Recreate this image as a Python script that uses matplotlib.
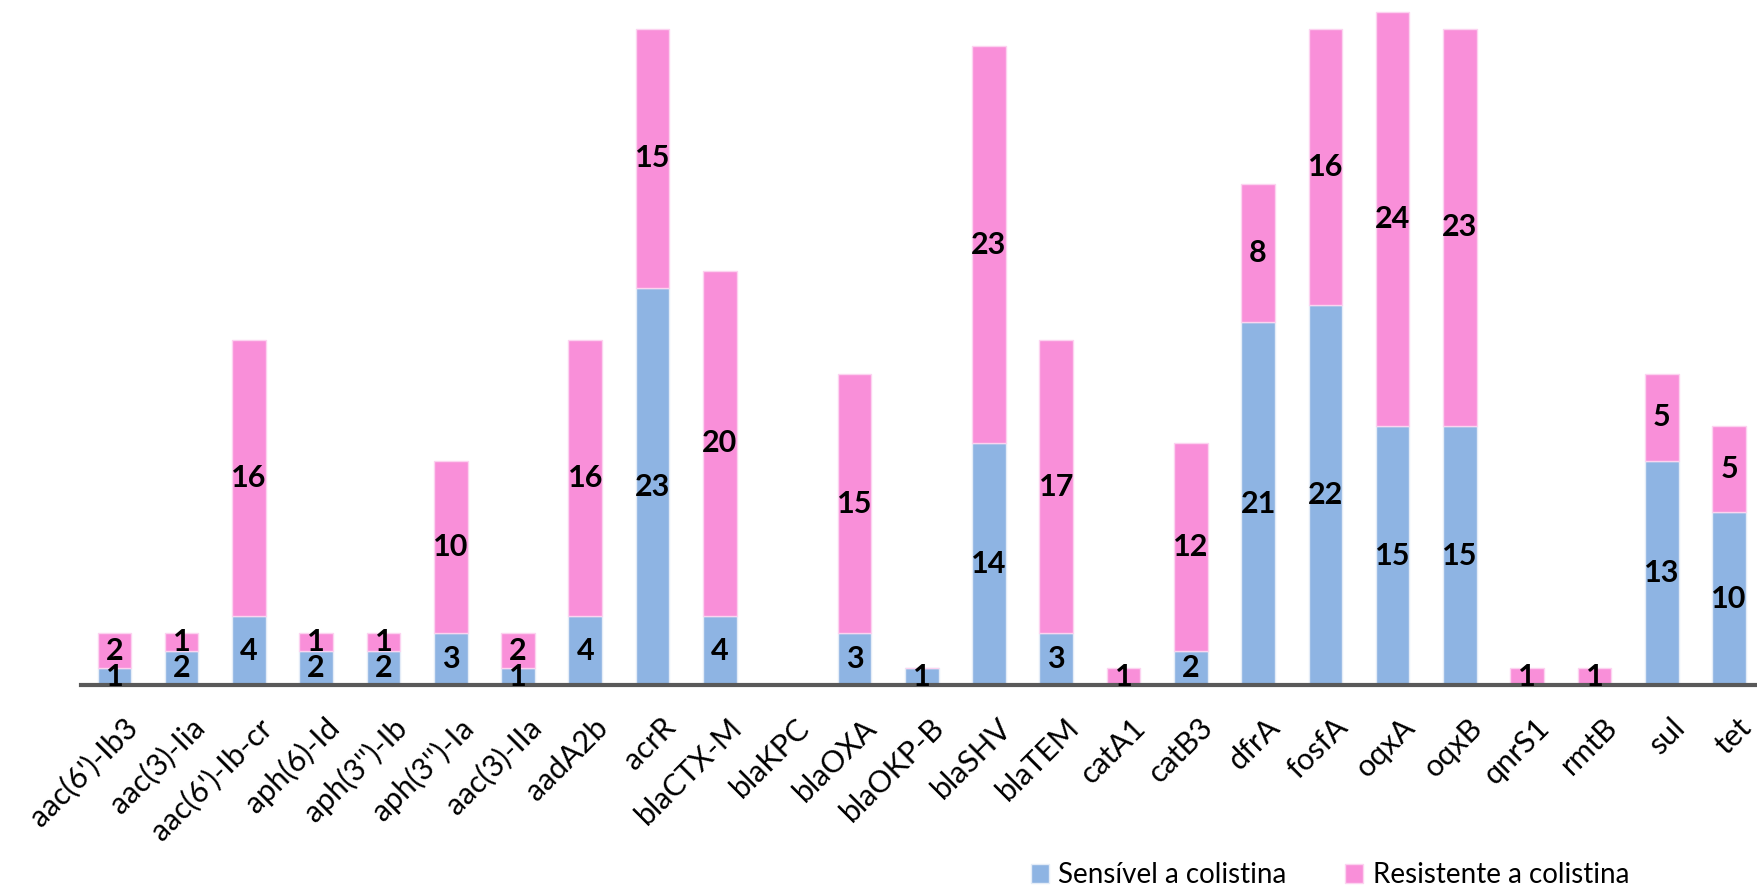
import numpy as np
import matplotlib.pyplot as plt
from matplotlib.transforms import ScaledTranslation

plt.rcParams['font.family'] = ['Lato', 'DejaVu Sans']

# Data
genes = ["aac(6')-Ib3", "aac(3)-Iia", "aac(6')-Ib-cr", "aph(6)-Id", "aph(3'')-Ib",
         "aph(3'')-Ia", "aac(3)-IIa", "aadA2b", "acrR", "blaCTX-M", "blaKPC",
         "blaOXA", "blaOKP-B", "blaSHV", "blaTEM", "catA1", "catB3", "dfrA",
         "fosfA", "oqxA", "oqxB", "qnrS1", "rmtB", "sul", "tet"]
sensivel = [1, 2, 4, 2, 2, 3, 1, 4, 23, 4, 0, 3, 1, 14, 3, 0, 2, 21, 22, 15, 15, 0, 0, 13, 10]
resistente = [2, 1, 16, 1, 1, 10, 2, 16, 15, 20, 0, 15, 0, 23, 17, 1, 12, 8, 16, 24, 23, 1, 1, 5, 5]

blue = '#8EB4E3'
pink = '#F98FD9'

fig = plt.figure(figsize=(17.58, 8.91), dpi=100)
ax = fig.add_axes([0.0459, 0.231, 0.9541, 0.769])

x = np.arange(len(genes))
b1 = ax.bar(x, sensivel, width=0.5, color=blue, edgecolor='#E4ECF7', linewidth=1,
            label='Sensível a colistina')
b2 = ax.bar(x, resistente, width=0.5, bottom=sensivel, color=pink, edgecolor='#FCD3F0',
            linewidth=1, label='Resistente a colistina')

# value labels in the middle of each segment
for i in range(len(genes)):
    if sensivel[i] > 0:
        ax.text(x[i], sensivel[i] / 2, str(sensivel[i]), ha='center', va='center',
                fontsize=22, fontweight='bold')
    if resistente[i] > 0:
        ax.text(x[i], sensivel[i] + resistente[i] / 2, str(resistente[i]), ha='center',
                va='center', fontsize=22, fontweight='bold')

ax.set_xlim(-0.5, 24.43)
ax.set_ylim(0, 39.67)
ax.set_xticks(x)
ax.set_xticklabels(genes, rotation=45, ha='right', rotation_mode='anchor', fontsize=22)
ax.tick_params(axis='x', length=0, pad=20)
shift = ScaledTranslation(0.08, 0, fig.dpi_scale_trans)
for lab in ax.get_xticklabels():
    lab.set_transform(lab.get_transform() + shift)
ax.set_yticks([])
for s in ['top', 'right', 'left']:
    ax.spines[s].set_visible(False)
ax.spines['bottom'].set_color('#595959')
ax.spines['bottom'].set_linewidth(3)

fig.legend(handles=[b1, b2], loc='lower left', bbox_to_anchor=(0.572, -0.025), ncol=2,
           frameon=False, fontsize=20, handlelength=0.65, handleheight=0.65,
           handletextpad=0.35, columnspacing=2.1)

fig.savefig('out.png', dpi=100)
